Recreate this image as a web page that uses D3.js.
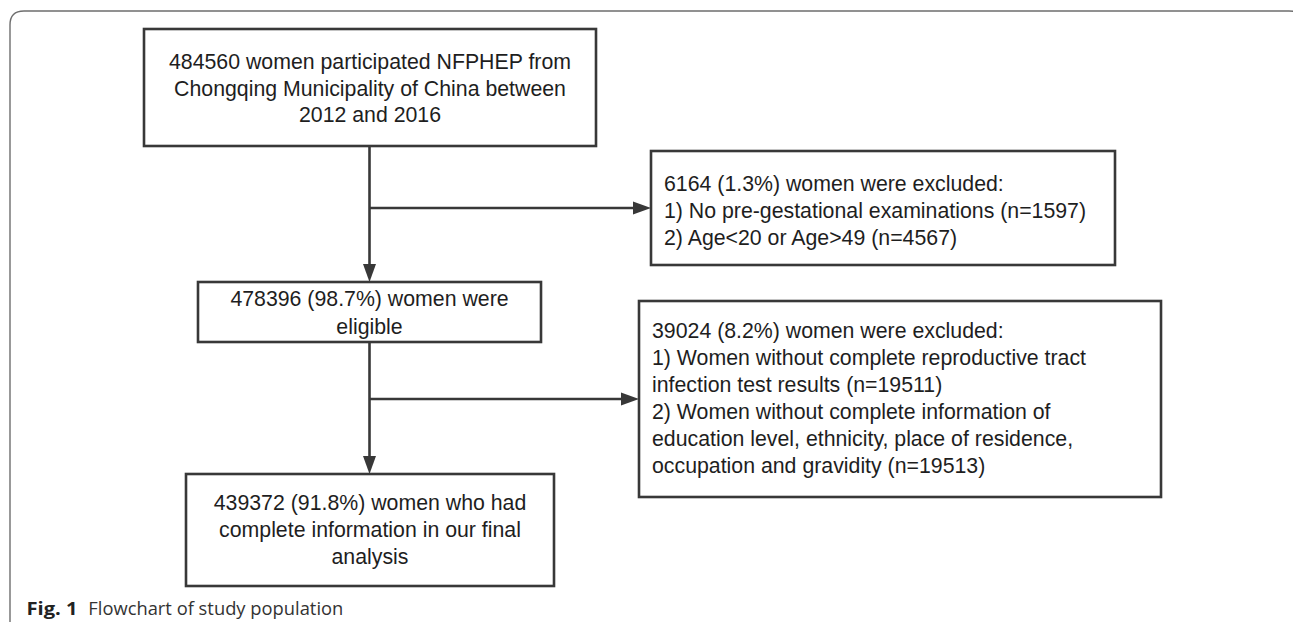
<!DOCTYPE html>
<html lang="en">
<head>
    <meta charset="UTF-8">
    <title>Flowchart of study population</title>
    <script src="https://d3js.org/d3.v7.min.js"></script>
    <style>
        body { margin: 0; background: #fff; font-family: "Liberation Sans", Arial, sans-serif; }
        svg { display: block; }
    </style>
</head>
<body>
<script>
    // Box contents (text lines)
    const boxIds = ["start", "excl1", "eligible", "excl2", "final"];
    const startLines = [
        "484560 women participated NFPHEP from",
        "Chongqing Municipality of China between",
        "2012 and 2016"
    ];
    const excl1Lines = [
        "6164 (1.3%) women were excluded:",
        "1) No pre-gestational examinations (n=1597)",
        "2) Age<20 or Age>49 (n=4567)"
    ];
    const eligibleLines = [
        "478396 (98.7%) women were",
        "eligible"
    ];
    const excl2Lines = [
        "39024 (8.2%) women were excluded:",
        "1) Women without complete reproductive tract",
        "infection test results (n=19511)",
        "2) Women without complete information of",
        "education level, ethnicity, place of residence,",
        "occupation and gravidity (n=19513)"
    ];
    const finalLines = [
        "439372 (91.8%) women who had",
        "complete information in our final",
        "analysis"
    ];
    const captionLabel = "Fig. 1";
    const captionText = "Flowchart of study population";

    // Links between boxes: main flow goes down, exclusions branch right
    const links = [
        {from: "start", to: "eligible", branch: "excl1"},
        {from: "eligible", to: "final", branch: "excl2"}
    ];

    // Layout (pixel positions)
    const width = 1293, height = 622;
    const layout = {
        start:    {x0: 144, x1: 596,  y0: 29,  y1: 146, align: "middle", first: 62,  step: 26.5},
        excl1:    {x0: 651, x1: 1115, y0: 151, y1: 265, align: "start",  first: 184, step: 26.7},
        eligible: {x0: 198, x1: 541,  y0: 282, y1: 342, align: "middle", first: 299, step: 27.5},
        excl2:    {x0: 639, x1: 1161, y0: 301, y1: 497, align: "start",  first: 331, step: 27},
        final:    {x0: 186, x1: 554,  y0: 474, y1: 586, align: "middle", first: 503, step: 27}
    };
    const branchY = {excl1: 208, excl2: 399};
    const spineX = 369.5;
    const textPad = 13;
    const lineColor = "#383838";

    const lines = {
        start: startLines, excl1: excl1Lines, eligible: eligibleLines,
        excl2: excl2Lines, final: finalLines
    };

    const svg = d3.select("body").append("svg")
        .attr("width", width)
        .attr("height", height);

    // outer figure frame (open at the bottom, right corner cut off by the page)
    const fx = 10, fy = 11, r = 14, fRight = 1303;
    svg.append("path")
        .attr("d", `M${fx},${height + 2} L${fx},${fy + r} Q${fx},${fy} ${fx + r},${fy} L${fRight - r},${fy} Q${fRight},${fy} ${fRight},${fy + r} L${fRight},${height + 2}`)
        .attr("fill", "none")
        .attr("stroke", "#6e6e6e")
        .attr("stroke-width", 1.4);

    // arrow helper
    function arrowHead(g, x, y, dir) {
        const len = 18, half = 6.5;
        let pts;
        if (dir === "down") pts = [[x, y], [x - half, y - len], [x + half, y - len]];
        else pts = [[x, y], [x - len, y - half], [x - len, y + half]];
        g.append("path")
            .attr("d", d3.line()(pts) + "Z")
            .attr("fill", lineColor);
    }

    const connectors = svg.append("g");
    links.forEach(l => {
        const a = layout[l.from], b = layout[l.to], c = layout[l.branch];
        const by = branchY[l.branch];
        connectors.append("line")
            .attr("x1", spineX).attr("y1", a.y1)
            .attr("x2", spineX).attr("y2", b.y0 - 14)
            .attr("stroke", lineColor).attr("stroke-width", 2.6);
        arrowHead(connectors, spineX, b.y0, "down");
        connectors.append("line")
            .attr("x1", spineX).attr("y1", by)
            .attr("x2", c.x0 - 14).attr("y2", by)
            .attr("stroke", lineColor).attr("stroke-width", 2.6);
        arrowHead(connectors, c.x0, by, "right");
    });

    // boxes
    boxIds.forEach(id => {
        const b = layout[id];
        const g = svg.append("g");
        g.append("rect")
            .attr("x", b.x0).attr("y", b.y0)
            .attr("width", b.x1 - b.x0).attr("height", b.y1 - b.y0)
            .attr("fill", "#fff")
            .attr("stroke", lineColor)
            .attr("stroke-width", 2.6);
        const tx = b.align === "middle" ? (b.x0 + b.x1) / 2 : b.x0 + textPad;
        g.selectAll("text")
            .data(lines[id])
            .enter().append("text")
            .attr("x", tx)
            .attr("y", (d, i) => b.first + i * b.step)
            .attr("dy", "0.35em")
            .attr("text-anchor", b.align)
            .style("font-size", "21.3px")
            .style("fill", "#1e1e1e")
            .text(d => d);
    });

    // caption
    svg.append("text")
        .attr("x", 26.5).attr("y", 615)
        .attr("textLength", 51).attr("lengthAdjust", "spacingAndGlyphs")
        .style("font-family", "'Open Sans', sans-serif")
        .style("font-weight", "bold")
        .style("font-size", "18px")
        .style("fill", "#222")
        .text(captionLabel);
    svg.append("text")
        .attr("x", 88.3).attr("y", 615)
        .attr("textLength", 255).attr("lengthAdjust", "spacingAndGlyphs")
        .style("font-family", "'Open Sans', sans-serif")
        .style("font-size", "18px")
        .style("fill", "#333")
        .text(captionText);
</script>
</body>
</html>
